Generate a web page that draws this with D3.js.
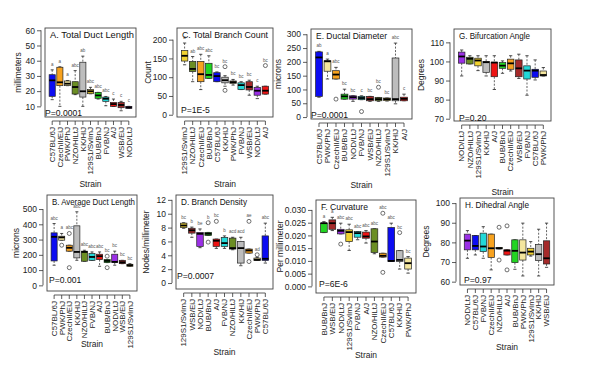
<!DOCTYPE html>
<html><head><meta charset="utf-8">
<script src="https://cdn.jsdelivr.net/npm/d3@7"></script>
<style>body{margin:0;background:#fff}svg{display:block;font-family:"Liberation Sans",Arial,sans-serif}</style>
</head><body><svg id="c" width="600" height="367"></svg>
<script>
// ---- data: [lower whisker, Q1, median, Q3, upper whisker]
const strainsA = ["C57BL/6J","CzechII/EiJ","PWK/PhJ","NZO/HlLtJ","KK/HlJ","129S1/SvImJ","BUB/BnJ","FVB/NJ","A/J","WSB/EiJ","NOD/LtJ"];
const statsA = [[14.4,16.6,27.1,30.8,34],[10,23.6,25.8,35.7,36],[23.6,23.6,24.9,26.7,27],[17.7,18.1,22.7,26.2,33.5],[10,16.1,19.9,39,43],[18.3,18.3,19.9,21,22.5],[14.8,15.3,17.2,19.2,19.2],[10.4,13.3,15,16.1,16.5],[10,10,11.5,12.6,14.8],[7.1,9.1,10.9,12.6,13.3],[8.7,8.7,9.3,10,10]];
const outliersA = [[],[],[],[],[],[],[],[],[],[],[]];
const lettersA = ["a","a","a","abc","ab","abc","abc","abc","c","c","c"];
const ticksA = [10,20,30,40,50,60];

const strainsB = ["C57BL/6J","PWK/PhJ","CzechII/EiJ","KK/HlJ","NZO/HlLtJ","FVB/NJ","A/J","BUB/BnJ","NOD/LtJ","WSB/EiJ","129S1/SvImJ"];
const statsB = [[132,160,318,344,405],[296,296,314,322,340],[224,224,246,263,263],[164,180,219,390,482],[158,158,219,224,230],[164,164,186,208,219],[125,169,191,204,219],[149,149,160,169,169],[132,149,154,204,224],[142,142,151,164,164],[125,125,132,138,142]];
const outliersB = [[],[263],[340,116],[],[],[],[],[191,116],[],[],[]];
const lettersB = ["abc","a","abc","abc","abc","abc","abc","bc","bc","bc","bc"];
const ticksB = [0,100,200,300,400,500];

const strainsC = ["129S1/SvImJ","NZO/HlLtJ","CzechII/EiJ","BUB/BnJ","C57BL/6J","KK/HlJ","PWK/PhJ","FVB/NJ","WSB/EiJ","NOD/LtJ","A/J"];
const statsC = [[133,143,157,171,191],[88,115,122,142,155],[67,88,108,142,161],[97,97,106,137,157],[88,88,103,112,114],[76,85,92,100,104],[79,83,87,90,94],[67,67,79,85,88],[52,66,74,88,92],[43,52,64,73,76],[55,55,64,76,76]];
const outliersC = [[],[],[],[],[],[128,65],[],[],[],[],[131]];
const lettersC = ["a","ab","abc","abc","bc","bc","bc","bc","bc","c","bc"];
const ticksC = [0,50,100,150,200];

const strainsD = ["129S1/SvImJ","WSB/EiJ","NOD/LtJ","BUB/BnJ","A/J","FVB/NJ","NZO/HlLtJ","KK/HlJ","CzechII/EiJ","PWK/PhJ","C57BL/6J"];
const statsD = [[7.9,8.0,8.3,8.64,8.7],[6.6,7.2,7.6,7.9,8.07],[5.1,5.28,7.1,7.3,7.8],[6.86,6.86,7.1,7.3,7.3],[5.0,5.28,6.1,6.34,6.34],[5.0,5.28,5.76,6.58,6.8],[4.8,4.9,5.04,6.48,6.6],[2.5,2.88,5.04,6.0,6.6],[4.32,4.32,4.7,4.9,4.9],[3.26,3.26,3.36,3.6,3.7],[2.88,3.26,3.5,6.8,8.64]];
const outliersD = [[],[],[],[8.7,5.9],[8.9],[],[],[],[8.9,3.1],[4.08],[]];
const lettersD = ["bc","b","be","b","bc","b","acd","acd","ae","ad","abc"];
const ticksD = [0,2,4,6,8,10,12];

const strainsE = ["C57BL/6J","PWK/PhJ","CzechII/EiJ","BUB/BnJ","NOD/LtJ","FVB/NJ","WSB/EiJ","NZO/HlLtJ","129S1/SvImJ","KK/HlJ","A/J"];
const statsE = [[72,75,216,236,238],[138,166,202,204,210],[138,138,154,168,180],[65,65,75,83,101],[57,65,72,77,77],[63,63,69,75,77],[57,59,65,75,75],[57,59,65,71,71],[58,60,65,69,69],[48,59,65,214,268],[59,59,66,72,83]];
const outliersE = [[],[],[65],[],[],[20],[],[108],[],[],[]];
const lettersE = ["ab","a","abc","bc","bc","c","bc","bc","bc","abc","c"];
const ticksE = [0,50,100,150,200,250,300];

const strainsF = ["BUB/BnJ","WSB/EiJ","NOD/LtJ","129S1/SvImJ","FVB/NJ","A/J","NZO/HlLtJ","CzechII/EiJ","C57BL/6J","KK/HlJ","PWK/PhJ"];
const statsF = [[0.0211,0.0211,0.0248,0.0248,0.0254],[0.0219,0.0224,0.0248,0.0261,0.0271],[0.0206,0.0206,0.0218,0.0224,0.0248],[0.0141,0.0176,0.0213,0.0222,0.0244],[0.0183,0.0193,0.0209,0.0215,0.0215],[0.017,0.0189,0.0196,0.0213,0.0219],[0.0128,0.0133,0.0176,0.0226,0.0226],[0.0115,0.0115,0.012,0.013,0.013],[0.0098,0.0098,0.010,0.0231,0.0248],[0.0068,0.0098,0.0104,0.014,0.014],[0.0052,0.0068,0.0091,0.0111,0.0117]];
const outliersF = [[],[],[0.0166],[],[],[],[],[0.0287,0.0055],[],[0.0211],[]];
const lettersF = ["a","a","abc","abc","abc","abc","abc","abc","abc","bc","bc"];
const ticksF = [0,0.005,0.010,0.015,0.020,0.025,0.030];

const strainsG = ["NOD/LtJ","NZO/HlLtJ","129S1/SvImJ","KK/HlJ","A/J","BUB/BnJ","CzechII/EiJ","WSB/EiJ","FVB/NJ","C57BL/6J","PWK/PhJ"];
const statsG = [[92.4,99.1,102.6,104.9,106],[98.7,98.7,101.4,102.2,103],[95.2,97.7,100.5,101.7,103],[92.4,94.3,99.6,100,103],[85.3,92,99.4,99.6,103],[93.8,96.4,97.8,99.4,100.3],[95,95.9,99,101.2,103],[91.1,92,96.4,100.8,103.8],[82.3,90.8,95.2,97.7,103],[90.3,91.7,95.2,95.9,100.8],[92.4,92.4,92.9,95,96.8]];
const outliersG = [[],[],[],[],[],[],[],[],[],[],[]];
const lettersG = ["","","","","","","","","","",""];
const ticksG = [70,80,90,100,110];

const strainsH = ["NOD/LtJ","C57BL/6J","FVB/NJ","CzechII/EiJ","NZO/HlLtJ","A/J","BUB/BnJ","PWK/PhJ","129S1/SvImJ","KK/HlJ","WSB/EiJ"];
const statsH = [[71.9,76.2,80.9,84.2,86],[73.6,76.2,78.2,83.5,83.5],[71.9,75.3,77.9,84.7,88],[66,72.3,77,84.2,84.2],[76.7,76.7,77,77.4,77.4],[73.6,73.6,75.8,76.2,76.2],[66.3,69.7,75.7,81.3,81.3],[62.9,71,74.8,81.3,89.8],[73,73.6,75.3,77,80.4],[62.9,70.7,74,79,86.7],[67.3,69,71.9,80.8,89.8]];
const outliersH = [[],[],[],[],[87.7,71],[88.4,66],[],[],[],[],[]];
const lettersH = ["","","","","","","","","","",""];
const ticksH = [60,70,80,90,100];

const titles = ["A. Total Duct Length","B. Average Duct Length","C. Total Branch Count","D. Branch Density","E. Ductal Diameter","F. Curvature","G. Bifurcation Angle","H. Dihedral Angle"];
const yTitles = ["millimeters","microns","Count","Nodes/millimeter","microns","Per millimeter","Degrees","Degrees"];
const pValues = ["P=0.0001","P=0.001","P=1E-5","P=0.0007","P=0.0001","P=6E-6","P=0.20","P=0.97"];
const xTitle = "Strain";

// ---- styling / layout
const strainColor = {
  "C57BL/6J":"#0c0cf2","CzechII/EiJ":"#f7a21f","PWK/PhJ":"#f4e69e","NZO/HlLtJ":"#6b8e23",
  "KK/HlJ":"#bdbdbd","129S1/SvImJ":"#f1d231","BUB/BnJ":"#22d422","FVB/NJ":"#22d8d8",
  "A/J":"#ee1414","WSB/EiJ":"#a52a2a","NOD/LtJ":"#9b30e6"};

const panels = [
 {strains:strainsA,stats:statsA,out:outliersA,letters:lettersA,ticks:ticksA,fmt:d3.format("d"),
  x0:45,x1:136,y0:28,y1:117,dom:[3,61.5],yt:21,xt:187,px:45,py:116,tw:84},
 {strains:strainsB,stats:statsB,out:outliersB,letters:lettersB,ticks:ticksB,fmt:d3.format("d"),
  x0:47,x1:137,y0:195,y1:291,dom:[-37,592],yt:19,xt:347,px:49,py:283,tw:83},
 {strains:strainsC,stats:statsC,out:outliersC,letters:lettersC,ticks:ticksC,fmt:d3.format("d"),
  x0:177,x1:273,y0:28,y1:117,dom:[-6,231],yt:151,xt:187,px:181,py:113,tw:86},
 {strains:strainsD,stats:statsD,out:outliersD,letters:lettersD,ticks:ticksD,fmt:d3.format("d"),
  x0:176,x1:273,y0:195,y1:289,dom:[-0.86,12.7],yt:149,xt:355,px:177,py:279,tw:66},
 {strains:strainsE,stats:statsE,out:outliersE,letters:lettersE,ticks:ticksE,fmt:d3.format("d"),
  x0:311,x1:412,y0:29,y1:119,dom:[-7,319],yt:281,xt:188,px:311,py:118,tw:71},
 {strains:strainsF,stats:statsF,out:outliersF,letters:lettersF,ticks:ticksF,fmt:d3.format(".3f"),
  x0:316,x1:416,y0:200,y1:293,dom:[-0.0026,0.0339],yt:283,xt:358,px:319,py:287,tw:47},
 {strains:strainsG,stats:statsG,out:outliersG,letters:lettersG,ticks:ticksG,fmt:d3.format("d"),
  x0:454,x1:551,y0:29,y1:121,dom:[68.8,117],yt:424,xt:195,px:459,py:121,tw:71},
 {strains:strainsH,stats:statsH,out:outliersH,letters:lettersH,ticks:ticksH,fmt:d3.format("d"),
  x0:460,x1:554,y0:198,y1:285,dom:[58.3,102.6],yt:429,xt:350,px:464,py:283,tw:64}
];

const svg = d3.select("#c");
svg.append("rect").attr("width",600).attr("height",367).attr("fill","#fff");

panels.forEach((P,pi) => {
  const n = P.strains.length;
  const W = P.x1 - P.x0;
  const s = W/(n+0.88);
  const x = d3.scaleBand().domain(P.strains).range([P.x0+0.44*s, P.x1-0.44*s]).paddingInner(0.2).paddingOuter(0.1);
  const y = d3.scaleLinear().domain(P.dom).range([P.y1, P.y0]);
  const g = svg.append("g");
  const bw = x.bandwidth();

  // y axis (detached R style)
  const ya = g.append("g").attr("transform",`translate(${P.x0-4},0)`)
    .call(d3.axisLeft(y).tickValues(P.ticks).tickFormat(P.fmt).tickSize(4).tickPadding(2).tickSizeOuter(0));
  ya.select(".domain").attr("d",`M0,${y(P.ticks[0])}V${y(P.ticks[P.ticks.length-1])}`);
  ya.selectAll("text").attr("font-size",8.5).attr("fill","#222").attr("font-family","Liberation Sans, Arial");
  ya.selectAll("line,path").attr("stroke","#333").attr("stroke-width",0.8);

  // x axis
  const xa = g.append("g").attr("transform",`translate(0,${P.y1+4})`)
    .call(d3.axisBottom(x).tickSize(4).tickSizeOuter(0));
  const xs = P.strains.map(d=>x(d)+bw/2);
  xa.select(".domain").attr("d",`M${xs[0]},0H${xs[n-1]}`);
  xa.selectAll("text").attr("font-size",8).attr("fill","#222").attr("font-family","Liberation Sans, Arial")
    .attr("transform","rotate(-90)").attr("text-anchor","end").attr("x",-6).attr("y",0).attr("dy","0.35em");
  xa.selectAll("line,path").attr("stroke","#333").attr("stroke-width",0.8);

  // frame
  g.append("rect").attr("x",P.x0).attr("y",P.y0).attr("width",W).attr("height",P.y1-P.y0)
    .attr("fill","none").attr("stroke","#444").attr("stroke-width",0.9);

  // boxes
  const bx = g.selectAll("g.box").data(P.strains.map((d,i)=>({k:d,st:P.stats[i],o:P.out[i],l:P.letters[i]})))
    .enter().append("g");
  bx.each(function(d){
    const gg = d3.select(this);
    const cx = x(d.k)+bw/2, [lo,q1,md,q3,hi] = d.st;
    gg.append("line").attr("x1",cx).attr("x2",cx).attr("y1",y(hi)).attr("y2",y(q3))
      .attr("stroke","#222").attr("stroke-width",0.7).attr("stroke-dasharray","2,1.5");
    gg.append("line").attr("x1",cx).attr("x2",cx).attr("y1",y(q1)).attr("y2",y(lo))
      .attr("stroke","#222").attr("stroke-width",0.7).attr("stroke-dasharray","2,1.5");
    [lo,hi].forEach(v=>gg.append("line").attr("x1",cx-bw/4).attr("x2",cx+bw/4).attr("y1",y(v)).attr("y2",y(v))
      .attr("stroke","#222").attr("stroke-width",0.8));
    gg.append("rect").attr("x",x(d.k)).attr("width",bw).attr("y",y(q3)).attr("height",Math.max(0.8,y(q1)-y(q3)))
      .attr("fill",strainColor[d.k]).attr("stroke","#222").attr("stroke-width",0.7);
    gg.append("line").attr("x1",x(d.k)).attr("x2",x(d.k)+bw).attr("y1",y(md)).attr("y2",y(md))
      .attr("stroke","#000").attr("stroke-width",1.8);
    d.o.forEach(v=>gg.append("circle").attr("cx",cx).attr("cy",y(v)).attr("r",2)
      .attr("fill","none").attr("stroke","#333").attr("stroke-width",0.7));
    const top = d3.max([hi,...d.o]);
    if (d.l) gg.append("text").attr("x",cx).attr("y",y(top)-4).attr("text-anchor","middle")
      .attr("font-size",4.5).attr("fill","#555").text(d.l);
  });

  // titles
  g.append("text").attr("x",P.x0+5).attr("y",P.y0+10).attr("font-size",8.6).attr("fill","#111")
    .attr("textLength",P.tw).attr("lengthAdjust","spacingAndGlyphs").text(titles[pi]);
  g.append("text").attr("x",P.px).attr("y",P.py).attr("font-size",8.6).attr("fill","#111").text(pValues[pi]);
  g.append("text").attr("transform",`translate(${P.yt},${(P.y0+P.y1)/2}) rotate(-90)`).attr("text-anchor","middle")
    .attr("font-size",8.5).attr("fill","#222").text(yTitles[pi]);
  g.append("text").attr("x",(P.x0+P.x1)/2).attr("y",P.xt).attr("text-anchor","middle")
    .attr("font-size",8.5).attr("fill","#222").text(xTitle);
});
</script></body></html>
